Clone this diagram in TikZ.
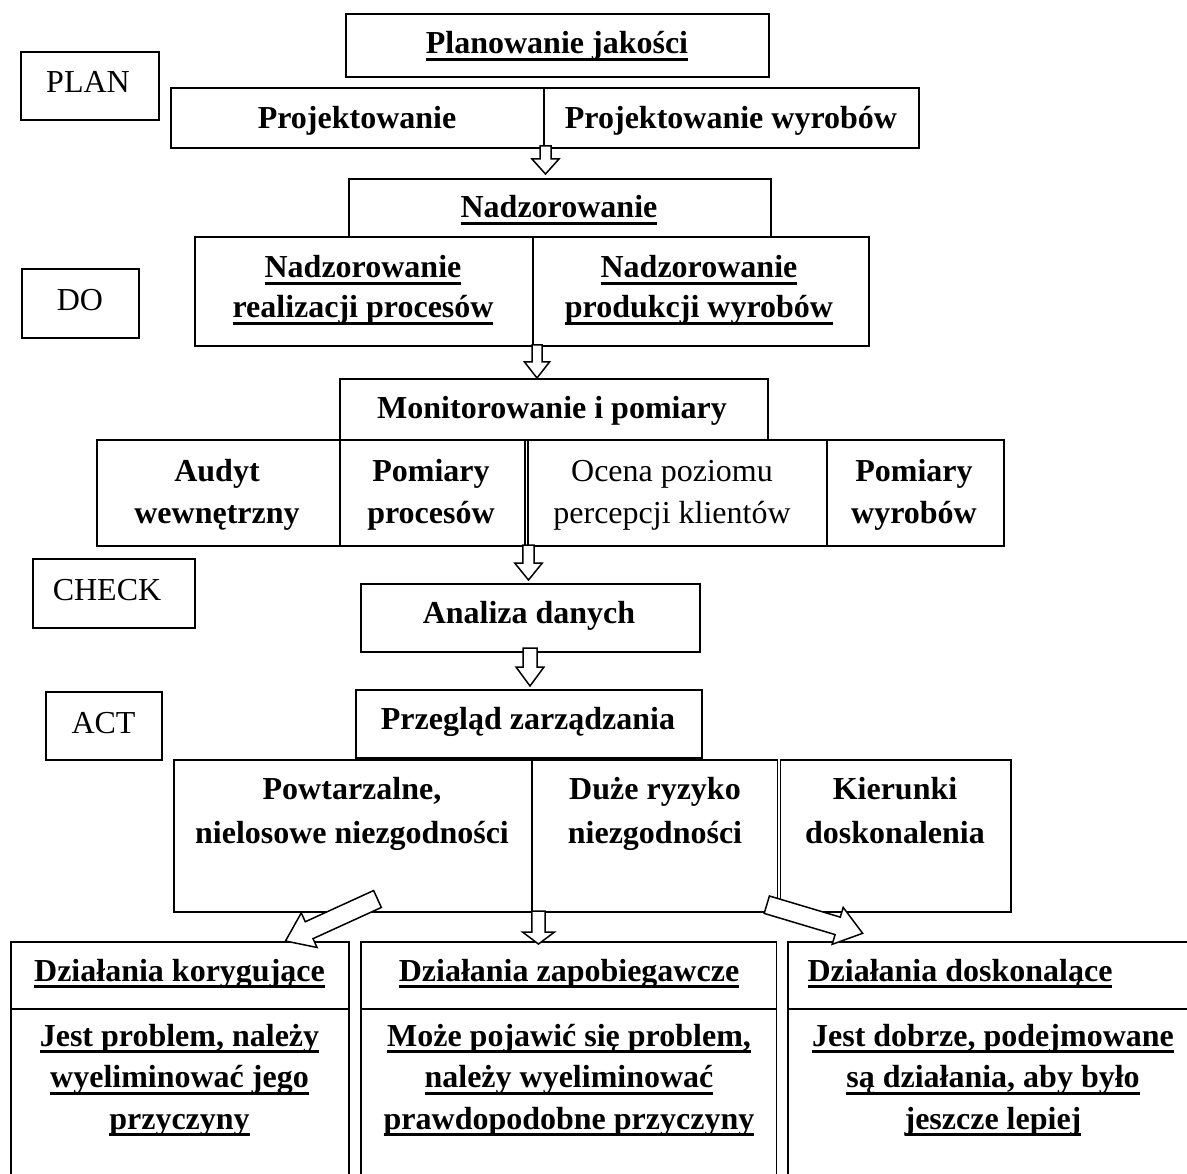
\documentclass[tikz,border=0pt]{standalone}
\usepackage{fontspec}
\setmainfont{Liberation Serif}
\usetikzlibrary{calc}

% thick underline drawn below the baseline
\newsavebox{\ulnbox}
\newcommand{\uln}[1]{\sbox{\ulnbox}{#1}\rlap{\rule[-7pt]{\wd\ulnbox}{2.6pt}}\usebox{\ulnbox}}

% rectangular cell from its top-left and bottom-right corners
\newcommand{\cell}[5]{%
  \node[box, minimum width={(#4-#2)*1pt}, minimum height={(#5-#3)*1pt}] (#1) at (#2,#3) {};}

% hollow block arrow: start, tip, shaft half-width, head half-width, head length
\newcommand{\blockarrow}[5]{%
  \coordinate (#1#2h) at ($(#2)!#5!(#1)$);
  \path[barrow] ($(#1)!#3!90:(#2)$) -- ($(#1#2h)!#3!90:(#2)$) -- ($(#1#2h)!#4!90:(#2)$)
    -- (#2) -- ($(#1#2h)!#4!-90:(#2)$) -- ($(#1#2h)!#3!-90:(#2)$) -- ($(#1)!#3!-90:(#2)$) -- cycle;}

% text nodes are placed at the baseline of their last line
\tikzset{
  box/.style={draw, line width=1.8pt, inner sep=0pt, anchor=north west},
  lbl/.style={anchor=base, inner sep=0pt, align=center, font=\fontsize{32}{40}\selectfont},
  blbl/.style={anchor=base, inner sep=0pt, align=center, font=\fontsize{32}{#1}\selectfont\bfseries},
  blbl/.default=40,
  barrow/.style={draw, fill=white, line width=1.5pt, line join=miter},
}

\begin{document}
\begin{tikzpicture}[x=1pt, y=-1pt]
\useasboundingbox (0,0) rectangle (1187,1174);
\clip (0,0) rectangle (1187,1174);

% PDCA labels
\cell{plan}{20}{51}{158}{119}
\cell{do}{21}{268}{138}{337}
\cell{check}{32}{558}{194}{627}
\cell{act}{45}{691}{161}{759}
\node[lbl] (tplan) at (88,93) {PLAN};
\node[lbl] (tdo) at (80,311) {DO};
\node[lbl] (tcheck) at (107,600) {CHECK};
\node[lbl] (tact) at (103.5,733) {ACT};

% planning
\cell{planq}{345}{13}{768}{76}
\cell{projL}{170}{87}{543}{147}
\cell{projR}{543}{87}{918}{147}
\node[blbl] (tplanq) at (557,54) {\uln{Planowanie jakości}};
\node[blbl] (tprojL) at (357,129) {Projektowanie};
\node[blbl] (tprojR) at (731,129) {Projektowanie wyrobów};

% supervision
\cell{nadz}{348}{178}{770}{236}
\cell{nadzL}{194}{236}{532}{345}
\cell{nadzR}{532}{236}{868}{345}
\node[blbl] (tnadz) at (559,218) {\uln{Nadzorowanie}};
\node[blbl] (tnadzL) at (363,318) {\uln{Nadzorowanie}\\\uln{realizacji procesów}};
\node[blbl] (tnadzR) at (699,318) {\uln{Nadzorowanie}\\\uln{produkcji wyrobów}};

% monitoring and measurement
\cell{mon}{339}{378}{767}{439}
\cell{audyt}{96}{439}{339}{545}
\cell{pomP}{339}{439}{524}{545}
\cell{ocena}{527}{439}{826}{545}
\cell{pomW}{826}{439}{1003}{545}
\node[blbl] (tmon) at (552,419) {Monitorowanie i pomiary};
\node[blbl=42] (taudyt) at (217,523) {Audyt\\wewnętrzny};
\node[blbl=42] (tpomP) at (431,523) {Pomiary\\procesów};
\node[lbl, font=\fontsize{32}{42}\selectfont] (tocena) at (672,523) {Ocena poziomu\\percepcji klientów};
\node[blbl=42] (tpomW) at (914,523) {Pomiary\\wyrobów};

% analysis and review
\cell{anal}{360}{583}{699}{651}
\node[blbl] (tanal) at (529,623) {Analiza danych};
\cell{przeg}{355}{689}{701}{757}
\node[blbl] (tprzeg) at (528,729) {Przegląd zarządzania};

\cell{powt}{173}{759}{531}{911}
\cell{duze}{531}{759}{776.5}{911}
\cell{kier}{779.5}{759}{1010}{911}
\node[blbl=44] (tpowt) at (352,843) {Powtarzalne,\\nielosowe niezgodności};
\node[blbl=44] (tduze) at (655,843) {Duże ryzyko\\niezgodności};
\node[blbl=44] (tkier) at (895,843) {Kierunki\\doskonalenia};

% actions
\cell{korH}{10}{941}{348}{1008}
\cell{korB}{10}{1008}{348}{1200}
\cell{zapH}{360}{941}{775.5}{1008}
\cell{zapB}{360}{1008}{775.5}{1200}
\cell{dosH}{787}{941}{1200}{1008}
\cell{dosB}{787}{1008}{1200}{1200}
\node[blbl] (tkorH) at (179.5,981) {\uln{Działania korygujące}};
\node[blbl] (tzapH) at (569,981) {\uln{Działania zapobiegawcze}};
\node[blbl] (tdosH) at (960,981) {\uln{Działania doskonalące}};
\node[blbl=41.5] (tkorB) at (179.5,1129) {\uln{Jest problem, należy}\\\uln{wyeliminować jego}\\\uln{przyczyny}};
\node[blbl=41.5] (tzapB) at (569,1129) {\uln{Może pojawić się problem,}\\\uln{należy wyeliminować}\\\uln{prawdopodobne przyczyny}};
\node[blbl=41.5] (tdosB) at (993,1129) {\uln{Jest dobrze, podejmowane}\\\uln{są działania, aby było}\\\uln{jeszcze lepiej}};

% flow arrows
\coordinate (a1s) at (545.5,146);  \coordinate (a1e) at (545.5,174);
\coordinate (a2s) at (537,345);    \coordinate (a2e) at (537,378);
\coordinate (a3s) at (528.5,545);  \coordinate (a3e) at (528.5,580);
\coordinate (a4s) at (530,648);    \coordinate (a4e) at (530,686);
\coordinate (a5s) at (538.5,911);  \coordinate (a5e) at (538.5,944);
\coordinate (a6s) at (377.5,899);  \coordinate (a6e) at (285.5,941);
\coordinate (a7s) at (766.8,904.7); \coordinate (a7e) at (862.6,933.3);
\blockarrow{a1s}{a1e}{5.5pt}{13.5pt}{15pt}
\blockarrow{a2s}{a2e}{5pt}{12.5pt}{16pt}
\blockarrow{a3s}{a3e}{5.7pt}{13.8pt}{17pt}
\blockarrow{a4s}{a4e}{7pt}{14pt}{19pt}
\blockarrow{a5s}{a5e}{6.7pt}{16pt}{12pt}
\blockarrow{a6s}{a6e}{9.3pt}{19pt}{26pt}
\blockarrow{a7s}{a7e}{9.1pt}{19.3pt}{26pt}
\end{tikzpicture}
\end{document}
